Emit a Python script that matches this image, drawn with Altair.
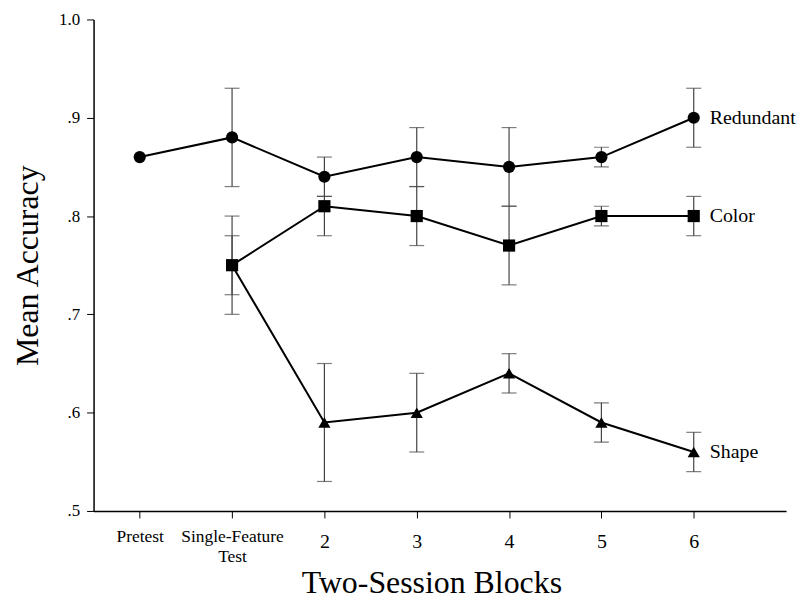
import altair as alt
import pandas as pd

block_pos = [0, 1, 2, 3, 4, 5, 6]
block_labels = ["Pretest", "Single-Feature|Test", "2", "3", "4", "5", "6"]

redundant = [0.86, 0.88, 0.84, 0.86, 0.85, 0.86, 0.90]
redundant_lo = [None, 0.83, 0.82, 0.83, 0.81, 0.85, 0.87]
redundant_hi = [None, 0.93, 0.86, 0.89, 0.89, 0.87, 0.93]

color = [None, 0.75, 0.81, 0.80, 0.77, 0.80, 0.80]
color_lo = [None, 0.72, 0.78, 0.77, 0.73, 0.79, 0.78]
color_hi = [None, 0.78, 0.82, 0.83, 0.81, 0.81, 0.82]

shape = [None, 0.75, 0.59, 0.60, 0.64, 0.59, 0.56]
shape_lo = [None, 0.70, 0.53, 0.56, 0.62, 0.57, 0.54]
shape_hi = [None, 0.80, 0.65, 0.64, 0.66, 0.61, 0.58]

series = {
    "Redundant": (redundant, redundant_lo, redundant_hi),
    "Color": (color, color_lo, color_hi),
    "Shape": (shape, shape_lo, shape_hi),
}

rows = []
for name, (vals, los, his) in series.items():
    for p, v, lo, hi in zip(block_pos, vals, los, his):
        if v is None:
            continue
        rows.append({"series": name, "block": p, "acc": v, "lo": lo, "hi": hi})
df = pd.DataFrame(rows)

FONT = "Liberation Serif"

label_expr = (
    "datum.value == 0 ? 'Pretest' : datum.value == 1 ? ['Single-Feature', 'Test'] : "
    "datum.value <= 6 ? format(datum.value, 'd') : ''"
)

x = alt.X(
    "block:Q",
    scale=alt.Scale(domain=[-0.5, 7.0], nice=False, zero=False),
    axis=alt.Axis(
        title="Two-Session Blocks",
        values=block_pos,
        labelExpr=label_expr,
        grid=False,
        tickSize=7,
        tickColor="black",
        domainColor="black",
        domainWidth=1.5,
        labelFont=FONT,
        labelFontSize=alt.condition("datum.value <= 1", alt.value(17.5), alt.value(20)),
        labelPadding=alt.condition("datum.value <= 1", alt.value(10), alt.value(14)),
        labelColor="black",
        labelLineHeight=20,
        titleFont=FONT,
        titleFontSize=32,
        titleFontWeight="normal",
        titleColor="black",
        titleBaseline="alphabetic",
        titleX=339.5,
        titleY=82,
    ),
)

y = alt.Y(
    "acc:Q",
    scale=alt.Scale(domain=[0.5, 1.0], nice=False, zero=False),
    axis=alt.Axis(
        title="Mean Accuracy",
        values=[0.5, 0.6, 0.7, 0.8, 0.9, 1.0],
        labelExpr="datum.value == 1 ? '1.0' : replace(format(datum.value, '.1f'), '0.', '.')",
        grid=False,
        tickSize=7,
        tickColor="black",
        domainColor="black",
        domainWidth=1.5,
        labelFont=FONT,
        labelFontSize=17,
        labelColor="black",
        labelPadding=7,
        titleFont=FONT,
        titleFontSize=32,
        titleFontWeight="normal",
        titleColor="black",
        titleBaseline="alphabetic",
        titleAngle=270,
        titleX=-56,
        titleY=247,
    ),
)

shape_scale = alt.Scale(
    domain=["Redundant", "Color", "Shape"],
    range=["circle", "square", "triangle-up"],
)

base = alt.Chart(df)

err = base.transform_filter("datum.lo != null").mark_rule(
    color="#444444", strokeWidth=1.2
).encode(x=x, y=alt.Y("lo:Q", scale=alt.Scale(domain=[0.5, 1.0])), y2="hi:Q")

cap_lo = base.transform_filter("datum.lo != null").mark_tick(
    color="#444444", thickness=1.2, size=15, orient="horizontal"
).encode(x="block:Q", y="lo:Q")

cap_hi = base.transform_filter("datum.lo != null").mark_tick(
    color="#444444", thickness=1.2, size=15, orient="horizontal"
).encode(x="block:Q", y="hi:Q")

lines = base.mark_line(color="black", strokeWidth=2).encode(
    x=x, y=y, detail="series:N"
)

points = base.mark_point(filled=True, opacity=1, color="black", size=150).encode(
    x="block:Q",
    y="acc:Q",
    shape=alt.Shape("series:N", scale=shape_scale, legend=None),
)

labels = base.transform_filter("datum.block == 6").mark_text(
    align="left", baseline="middle", dx=16, font=FONT, fontSize=20, color="black"
).encode(x="block:Q", y="acc:Q", text="series:N")

chart = (
    alt.layer(err, cap_lo, cap_hi, lines, points, labels)
    .properties(
        width=696,
        height=494,
        autosize=alt.AutoSizeParams(type="none"),
        padding={"left": 86, "top": 10, "right": 13, "bottom": 91},
        background="white",
    )
    .configure_view(stroke=None)
)

chart.save("out.html", embed_options={"renderer": "svg", "actions": False})
